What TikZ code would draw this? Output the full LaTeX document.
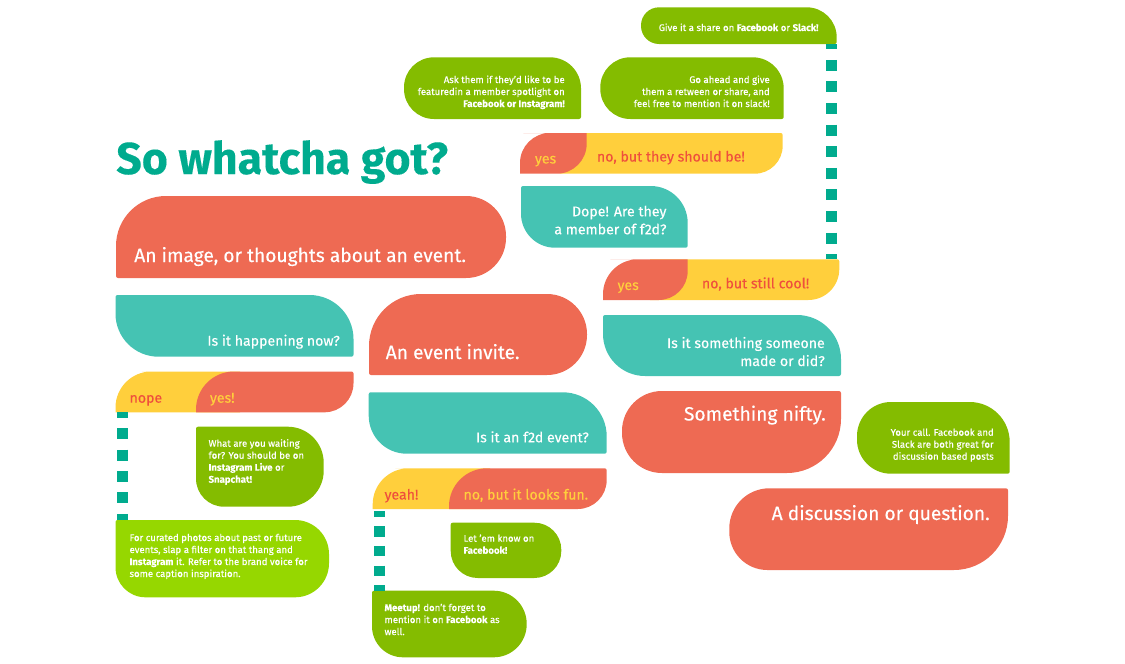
\documentclass[tikz,border=0pt]{standalone}
\usepackage{fontspec}
\setmainfont{Fira Sans}[FakeBold=0.3, BoldFeatures={FakeBold=0.2}]
\usetikzlibrary{fit,calc}

\definecolor{coral}{HTML}{EE6A53}
\definecolor{tealblob}{HTML}{45C3B3}
\definecolor{tealdark}{HTML}{00AB8E}
\definecolor{sun}{HTML}{FFCF3C}
\definecolor{zest}{HTML}{EF4F3C}
\definecolor{leaf}{HTML}{84BC00}
\definecolor{lime}{HTML}{96D700}

\begin{document}
\begin{tikzpicture}[
  x=.75pt, y=-.75pt,
  blob/.style n args={5}{inner sep=0pt, outer sep=0pt, path picture={
    \fill [#1] (path picture bounding box.north) [rounded corners=#3*.75pt] -- (path picture bounding box.north east)
      [rounded corners=#4*.75pt] -- (path picture bounding box.south east)
      [rounded corners=#5*.75pt] -- (path picture bounding box.south west)
      [rounded corners=#2*.75pt] -- (path picture bounding box.north west) -- cycle;}},
  bigtext/.style={text=white, inner sep=0pt, font=\fontsize{14.4}{18}\selectfont},
  midtext/.style={text=white, inner sep=0pt, font=\fontsize{10.6}{13.5}\selectfont},
  lowtext/.style={text=white, inner sep=0pt, font=\fontsize{7.2}{9}\selectfont},
  hop/.style={tealdark, line width=8.25pt}
]
  \useasboundingbox (0,0) rectangle (1125,664);

  \node (title) [anchor=base west, inner sep=0pt, text=tealdark, font=\fontsize{33.5}{36}\bfseries\selectfont] at (116,174) {So whatcha got?};

  % left column
  \node (image) [fit={(116,196) (506,278)}, blob={coral}{50}{40}{40}{2}] {};
  \node (imagetext) [bigtext, anchor=base west] at (134,262) {An image, or thoughts about an event.};

  \node (happening) [fit={(115.5,295) (353.5,356.7)}, blob={tealblob}{2}{44}{2}{43}] {};
  \node (happeningtext) [midtext, anchor=base east] at (340,345.7) {Is it happening now?};

  \node (nope) [fit={(115.5,371.5) (240,412.3)}, blob={sun}{36}{0}{0}{0}] {};
  \node (yes) [fit={(196,371.5) (353.5,412.3)}, blob={coral}{38}{2}{29}{0}] {};
  \node (nopetext) [midtext, text=zest, anchor=base west] at (129.3,402.7) {nope};
  \node (yestext) [midtext, text=sun, anchor=base west] at (209.7,402.7) {yes!};

  \node (waiting) [fit={(196,426.7) (323.7,506.7)}, blob={leaf}{2}{36}{36}{28}] {};
  \node (waitingtext) [lowtext, align=left, anchor=base west] at (208.3,482.7) {What are you waiting\\for? You should be on\\\textbf{Instagram Live} or\\\textbf{Snapchat!}};

  \node (curated) [fit={(115.5,520) (329,597.3)}, blob={lime}{2}{34}{34}{30}] {};
  \node (curatedtext) [lowtext, align=left, anchor=base west] at (129.3,577) {For curated photos about past or future\\events, slap a filter on that thang and\\\textbf{Instagram} it. Refer to the brand voice for\\some caption inspiration.};

  % middle column
  \node (invite) [fit={(369,294) (587,375)}, blob={coral}{52}{40}{40}{2}] {};
  \node (invitetext) [bigtext, anchor=base west] at (385.5,359) {An event invite.};

  \node (f2d) [fit={(368.7,392.3) (606.7,453.7)}, blob={tealblob}{2}{44}{2}{38}] {};
  \node (f2dtext) [midtext, anchor=base east] at (589,442.3) {Is it an f2d event?};

  \node (yeah) [fit={(372.7,468.3) (490,509)}, blob={sun}{36}{0}{0}{0}] {};
  \node (lookfun) [fit={(449,468.3) (606.7,509)}, blob={coral}{38}{2}{29}{0}] {};
  \node (yeahtext) [midtext, text=zest, anchor=base west] at (384.3,499.5) {yeah!};
  \node (lookfuntext) [midtext, text=sun, anchor=base west] at (463.3,499.5) {no, but it looks fun.};

  \node (letem) [fit={(450.7,522.7) (561.3,578)}, blob={leaf}{2}{27}{27}{27}] {};
  \node (letemtext) [lowtext, align=left, anchor=base west] at (463.3,553.7) {Let 'em know on\\\textbf{Facebook!}};

  \node (meetup) [fit={(372,590.7) (526.7,657.3)}, blob={leaf}{2}{33}{33}{31}] {};
  \node (meetuptext) [lowtext, align=left, anchor=base west] at (384.3,635) {\textbf{Meetup!} don't forget to\\mention it on \textbf{Facebook} as\\well.};

  % top right
  \node (share) [fit={(641,7.3) (836.7,44)}, blob={leaf}{18}{30}{2}{18}] {};
  \node (sharetext) [lowtext, anchor=base east] at (818.7,31) {Give it a share on \textbf{Facebook} or \textbf{Slack!}};

  \node (ask) [fit={(404,57.3) (581,119)}, blob={leaf}{30}{31}{2}{30}] {};
  \node (asktext) [lowtext, align=right, anchor=base east] at (565,107) {Ask them if they'd like to be\\featuredin a member spotlight on\\\textbf{Facebook or Instagram!}};

  \node (goahead) [fit={(600.3,57.3) (783.7,119)}, blob={leaf}{30}{31}{2}{30}] {};
  \node (goaheadtext) [lowtext, align=right, anchor=base east] at (770,107) {Go ahead and give\\them a retween or share, and\\feel free to mention it on slack!};

  \node (shouldbe) [fit={(560,133) (782.7,173.7)}, blob={sun}{0}{2}{28}{0}] {};
  \node (member) [fit={(520,133) (586.7,173.7)}, blob={coral}{30}{0}{30}{0}] {};
  \node (membertext) [midtext, text=sun, anchor=base west] at (534.7,163.5) {yes};
  \node (shouldbetext) [midtext, text=zest, anchor=base west] at (596.7,161.5) {no, but they should be!};

  \node (dope) [fit={(521,186) (687.7,247.7)}, blob={tealblob}{2}{37}{2}{34}] {};
  \node (dopetext) [midtext, align=right, anchor=base east] at (666.7,234.3) {Dope! Are they\\a member of f2d?};

  \node (cool) [fit={(650,259.3) (839.3,300)}, blob={sun}{0}{2}{31}{0}] {};
  \node (made) [fit={(603,259.3) (687.7,300)}, blob={coral}{35}{0}{29}{0}] {};
  \node (madetext) [midtext, text=sun, anchor=base west] at (617.3,290) {yes};
  \node (cooltext) [midtext, text=zest, anchor=base west] at (701.7,288.3) {no, but still cool!};

  \node (someone) [fit={(603,315) (841,376)}, blob={tealblob}{2}{44}{2}{42}] {};
  \node (someonetext) [midtext, align=right, anchor=base east] at (825,366) {Is it something someone\\made or did?};

  \node (nifty) [fit={(622,391) (841,473)}, blob={coral}{40}{2}{54}{40}] {};
  \node (niftytext) [bigtext, anchor=base east] at (826,420.5) {Something nifty.};

  % bottom right
  \node (yourcall) [fit={(857,402) (1009.7,473.7)}, blob={leaf}{34}{40}{2}{34}] {};
  \node (yourcalltext) [lowtext, align=right, anchor=base east] at (994,459.7) {Your call. Facebook and\\Slack are both great for\\discussion based posts};

  \node (discussion) [fit={(729.3,488.3) (1008,570)}, blob={coral}{40}{2}{54}{38}] {};
  \node (discussiontext) [bigtext, anchor=base east] at (990,520) {A discussion or question.};

  % dashed links
  \coordinate (nopedrop) at ($(nope.south west)+(7,0)$);
  \coordinate (yeahdrop) at ($(yeah.south west)+(7,2.3)$);
  \coordinate (sharedrop) at ($(share.south east)+(-5.2,0)$);
  \draw [hop, dash pattern=on 8.25pt off 7.85pt, dash phase=4.3pt] (nopedrop) -- (curated.north -| nopedrop);
  \draw [hop, dash pattern=on 7.8pt off 7pt, dash phase=3.7pt] (yeahdrop) -- (meetup.north -| yeahdrop);
  \draw [hop, dash pattern=on 8.25pt off 7.95pt, dash phase=4.3pt] (sharedrop) -- (cool.north -| sharedrop);
\end{tikzpicture}
\end{document}
